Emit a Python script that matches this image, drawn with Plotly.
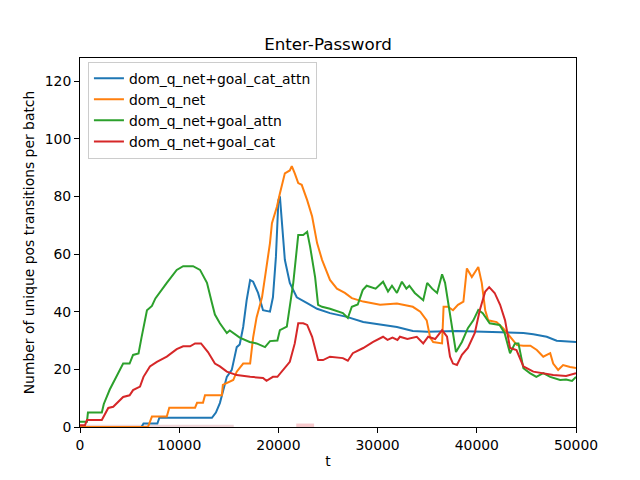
import plotly.graph_objects as go

# (t, value) pairs
cat_attn = [(0, 0), (6200, 0), (6400, 1.2), (7800, 1.2), (8000, 3.2), (13300, 3.2), (13700, 5),
            (14100, 8.3), (14800, 17.4), (15300, 19.8), (15800, 27.7), (16100, 28.6), (16450, 34.7),
            (16800, 44), (17150, 51), (17450, 50.4), (17950, 46.5), (18450, 40.5), (19150, 40),
            (19450, 45), (19750, 59), (20000, 78.7), (20150, 80), (20450, 67.3), (20650, 58),
            (21150, 50), (21850, 45), (22900, 43), (23900, 41), (25200, 39.5), (26900, 38.2),
            (28550, 36.4), (30250, 35.6), (31950, 34.7), (33550, 33.3), (35000, 33), (38000, 33.3),
            (41300, 33), (43050, 33), (44700, 32.6), (45700, 32.2), (47050, 31.3), (48050, 29.9),
            (50000, 29.5)]

q_net = [(0, 0), (6850, 0), (7250, 3.6), (8750, 3.6), (9000, 6.7), (11600, 6.7), (11800, 8.4),
         (12400, 8.4), (12600, 11), (14300, 11), (14400, 14.6), (15450, 16.3), (15800, 19.2),
         (16450, 22), (17150, 22), (17450, 31), (17800, 38), (18350, 45), (18650, 52), (19150, 63.8),
         (19350, 70.7), (19850, 76.4), (20150, 81), (20650, 88), (21150, 89), (21350, 90.5),
         (21650, 88), (22000, 84.6), (22350, 84), (22900, 78.7), (23400, 73), (23900, 63.8),
         (24400, 58), (25200, 51), (25900, 48), (26700, 46.5), (27400, 44.7), (28550, 43.5),
         (30250, 42.4), (31950, 42.8), (33550, 41.7), (34300, 40), (34950, 37), (35300, 31),
         (35600, 29.5), (36500, 29), (36650, 41.7), (37100, 41.7), (37600, 40.5), (38100, 42.4),
         (38650, 43.5), (39000, 55), (39500, 52), (40150, 55.5), (40500, 50), (40850, 40.5),
         (41150, 37), (42000, 36.4), (42650, 34.3), (43350, 31.3), (44050, 28.4), (44700, 28.2),
         (45400, 28.2), (46050, 26.7), (46700, 24.4), (47400, 25.6), (47700, 22), (48200, 19.8),
         (48700, 21.5), (49400, 20.8), (50000, 20.5)]

goal_attn = [(0, 1.8), (700, 1.8), (800, 5), (2200, 5), (2400, 8), (3000, 13), (4350, 22), (5000, 22),
             (5350, 25), (5900, 25.5), (6200, 31), (6750, 40.5), (7250, 42), (7600, 44.6), (8750, 50),
             (9750, 54.5), (10400, 55.8), (11400, 55.8), (12100, 54.5), (12800, 50), (13300, 43),
             (13600, 39), (14100, 36), (14800, 32.6), (15100, 33.5), (16100, 31), (17100, 29.5),
             (17800, 29), (18650, 27.7), (19150, 29.8), (19900, 30), (20150, 33.6), (20850, 34.8),
             (21150, 41.6), (21500, 50), (22000, 66.6), (22500, 66.6), (22900, 67.7), (23200, 62.5),
             (23700, 52), (24000, 42.4), (24400, 41.7), (25200, 41), (26500, 39.5), (27000, 37.8),
             (27400, 41.7), (28000, 42.5), (28500, 47.5), (28900, 49), (29800, 48), (30550, 50.4),
             (31050, 47), (31450, 49), (31950, 46.5), (32450, 50.4), (32900, 48), (33200, 49),
             (33750, 46.5), (34600, 44), (35000, 50), (35500, 48), (36000, 46.5), (36500, 53),
             (36800, 50), (37100, 43), (37500, 33.6), (37900, 26), (38500, 29.5), (39100, 34.3),
             (39650, 37), (40150, 40.6), (40600, 39.5), (41300, 36), (42300, 35.4), (42800, 32.6),
             (43350, 25.6), (43850, 29), (44200, 29), (44700, 20.4), (45350, 18.7), (46000, 17.4),
             (46700, 18.7), (47400, 17.4), (48400, 16.3), (49000, 16.5), (49600, 16), (50000, 17.4)]

goal_cat = [(0, 0.6), (500, 0.6), (700, 2.4), (2200, 2.4), (2850, 6.6), (3350, 7), (4350, 10.4),
            (5000, 11), (5350, 12.8), (6050, 14), (6400, 17.4), (7050, 21), (7750, 22.6), (8750, 24.4),
            (9750, 27), (10400, 28), (11100, 28), (11600, 29), (12200, 29), (12900, 26), (13600, 22),
            (14100, 21), (14800, 19.2), (15800, 18), (17150, 17.4), (18450, 17), (18800, 16),
            (19450, 17.4), (19900, 17.4), (20450, 19.8), (21150, 22.6), (21650, 29), (22000, 36),
            (22500, 36), (22900, 35.4), (23400, 31.3), (23700, 26.7), (24000, 23.2), (24500, 23.2),
            (25200, 24.4), (26500, 23.9), (27000, 23), (27500, 25.6), (28550, 27.4), (29550, 29.5),
            (30550, 31.3), (31000, 30.2), (31500, 31), (32000, 30.2), (32250, 31.3), (33000, 30.5),
            (33950, 31.3), (34600, 29), (35100, 31.3), (35800, 30.5), (36500, 33.6), (37000, 31.3),
            (37300, 24.4), (37600, 22), (38000, 21.5), (38500, 25), (39100, 27.4), (39800, 32.6),
            (40300, 40.5), (40850, 47), (41250, 48.5), (41800, 46.5), (42350, 42.4), (42850, 37),
            (43350, 27.4), (44000, 26.7), (44700, 21), (45700, 19.2), (46700, 18.7), (47700, 18),
            (49000, 17.7), (50000, 18.7)]

# faint spread bands lying on the x axis
band_early_t = [0, 15500]
band_early_hi = [0.8, 0.8]
band_late_t = [21800, 23600]
band_late_hi = [1.2, 1.2]

x_ticks = [0, 10000, 20000, 30000, 40000, 50000]
y_ticks = [0, 20, 40, 60, 80, 100, 120]

series = [
    ("dom_q_net+goal_cat_attn", cat_attn, "#1f77b4"),
    ("dom_q_net", q_net, "#ff7f0e"),
    ("dom_q_net+goal_attn", goal_attn, "#2ca02c"),
    ("dom_q_net+goal_cat", goal_cat, "#d62728"),
]

fig = go.Figure()

for bt, bh, col in [(band_early_t, band_early_hi, "rgba(200,120,130,0.3)"),
                    (band_late_t, band_late_hi, "rgba(230,80,90,0.3)")]:
    fig.add_trace(go.Scatter(x=bt + bt[::-1], y=bh + [0] * len(bt), fill="toself",
                             fillcolor=col, line=dict(width=0), mode="lines",
                             showlegend=False, hoverinfo="skip"))

for name, pts, color in series:
    fig.add_trace(go.Scatter(
        x=[p[0] for p in pts], y=[p[1] for p in pts], name=name, mode="lines",
        line=dict(color=color, width=2),
    ))

axis_common = dict(
    showgrid=False, zeroline=False, showline=True, linecolor="black", linewidth=1,
    mirror=True, ticks="outside", ticklen=5, tickcolor="black", automargin=False,
    tickfont=dict(size=13.9, color="black"),
)

# page body adds an 8px offset, so margins are shifted to compensate
fig.update_layout(
    width=640, height=480,
    paper_bgcolor="white", plot_bgcolor="white",
    font=dict(family="DejaVu Sans", color="black"),
    margin=dict(l=72, r=72, t=50, b=61),
    title=dict(text="Enter-Password", x=0.5, xanchor="center", y=0.925, yanchor="middle",
               font=dict(size=16.7), automargin=False),
    xaxis=dict(range=[0, 50000], tickvals=x_ticks, ticktext=[str(v) for v in x_ticks],
               title=dict(text="t", font=dict(size=13.9), standoff=4), **axis_common),
    yaxis=dict(range=[0, 128], tickvals=y_ticks, ticktext=[str(v) for v in y_ticks],
               title=dict(text="Number of unique pos transitions per batch",
                          font=dict(size=13.9), standoff=6), **axis_common),
    legend=dict(x=0.016, y=0.99, xanchor="left", yanchor="top",
                bgcolor="rgba(255,255,255,0.8)", bordercolor="#cccccc", borderwidth=1,
                font=dict(size=13.9), tracegroupgap=0, itemwidth=30),
    showlegend=True,
)

fig.write_html("out.html")
